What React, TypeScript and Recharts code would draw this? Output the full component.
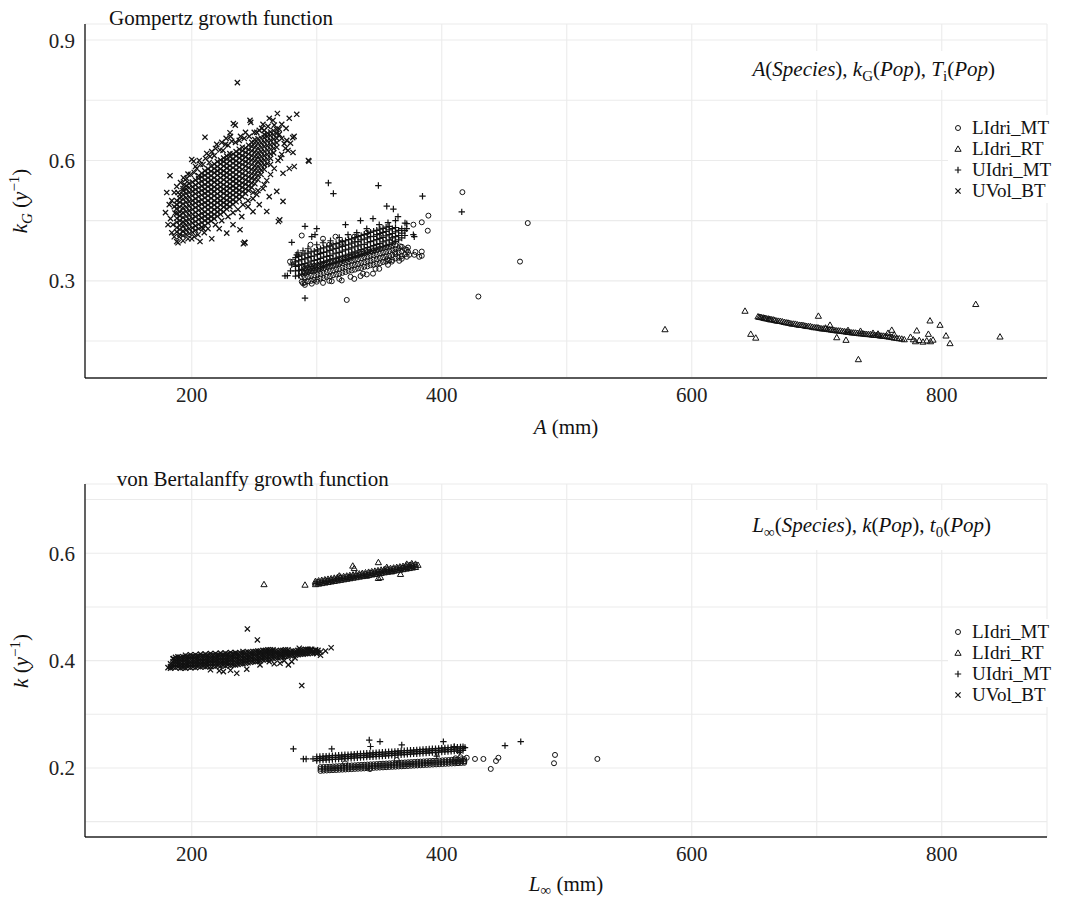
import React from 'react';
import { ScatterChart, Scatter, XAxis, YAxis, CartesianGrid, Legend } from 'recharts';

const FONT = "'Liberation Serif', 'Times New Roman', 'DejaVu Serif', serif";
const INK = '#121212';

const seriesNames = ['LIdri_MT', 'LIdri_RT', 'UIdri_MT', 'UVol_BT'];
const xTicks = [200, 300, 400, 500, 600, 700, 800];
const xTickLabels = [200, 400, 600, 800];
const gompYTicks = [0.15, 0.3, 0.45, 0.6, 0.75, 0.9];
const gompYTickLabels = [0.3, 0.6, 0.9];
const vbYTicks = [0.1, 0.2, 0.3, 0.4, 0.5, 0.6, 0.7];
const vbYTickLabels = [0.2, 0.4, 0.6];
const xDomain: [number, number] = [114.6, 884.2];
const gompYDomain: [number, number] = [0.058, 0.94];
const vbYDomain: [number, number] = [0.0714, 0.729];

type Col = [number, number[]];
type Pt = [number, number];

// ================= Gompertz panel (A, kG) =================
const gompLIdriMTBand: Col[] = [
  [288, [0.298, 0.31, 0.321, 0.334]], [290.5, [0.296, 0.309, 0.32, 0.331]],
  [293, [0.299, 0.31, 0.323, 0.333]], [295.5, [0.3, 0.313, 0.324, 0.336]],
  [298, [0.302, 0.314, 0.325, 0.338]], [300.5, [0.303, 0.316, 0.328, 0.339]],
  [303, [0.306, 0.317, 0.33, 0.342]], [305.5, [0.307, 0.32, 0.331, 0.343]],
  [308, [0.31, 0.322, 0.335, 0.346]], [310.5, [0.311, 0.324, 0.336, 0.348]],
  [313, [0.314, 0.326, 0.338, 0.35]], [315.5, [0.316, 0.329, 0.34, 0.352]],
  [318, [0.318, 0.33, 0.343, 0.353]], [320.5, [0.32, 0.333, 0.344, 0.356]],
  [323, [0.322, 0.334, 0.347, 0.357]], [325.5, [0.325, 0.336, 0.348, 0.36]],
  [328, [0.326, 0.339, 0.35, 0.361]], [330.5, [0.328, 0.34, 0.353, 0.364]],
  [333, [0.331, 0.342, 0.354, 0.365]], [335.5, [0.332, 0.345, 0.356, 0.368]],
  [338, [0.335, 0.346, 0.359, 0.369]], [340.5, [0.336, 0.349, 0.36, 0.372]],
  [343, [0.339, 0.35, 0.363, 0.373]], [345.5, [0.34, 0.353, 0.364, 0.376]],
  [348, [0.343, 0.354, 0.366, 0.377]], [350.5, [0.344, 0.357, 0.368, 0.38]],
  [353, [0.347, 0.358, 0.371, 0.381]], [355.5, [0.348, 0.361, 0.372, 0.384]],
  [358, [0.351, 0.362, 0.374, 0.385]], [360.5, [0.352, 0.365, 0.376, 0.388]],
  [363, [0.356, 0.367, 0.379, 0.389]], [365.5, [0.358, 0.371, 0.381]],
  [368, [0.362, 0.373, 0.385]], [370.5, [0.366, 0.379]], [373, [0.372, 0.383]],
];
const gompLIdriMTScatter: Pt[] = [
  [416.5, 0.521], [468.8, 0.444], [462.6, 0.348], [429.3, 0.261], [389.3, 0.4625],
  [388.8, 0.425], [384, 0.446], [384, 0.373], [384, 0.3625], [377.3, 0.44],
  [372, 0.3775], [366.6, 0.386], [362.6, 0.371], [360, 0.348], [356.5, 0.354],
  [324, 0.2525], [288, 0.413], [278.6, 0.348], [281, 0.348], [283.5, 0.344],
  [289, 0.294], [290.5, 0.29], [296, 0.293], [305, 0.295], [312, 0.299],
  [320, 0.301], [330, 0.305], [340, 0.316], [350, 0.33], [345, 0.318],
  [335, 0.312], [374, 0.365], [379, 0.372], [382, 0.36], [368, 0.355],
  [300, 0.37], [310, 0.39], [320, 0.395], [305, 0.405], [295, 0.39],
  [315, 0.41], [330, 0.41], [340, 0.42], [350, 0.41], [361, 0.405],
  [300, 0.298], [310, 0.3], [318, 0.305], [327, 0.31], [337, 0.318],
  [347, 0.33], [357, 0.34], [366, 0.35], [372, 0.36], [378, 0.365],
];

const gompLIdriRT: Pt[] = [
  [653, 0.211], [654, 0.21], [655, 0.2095], [656, 0.2088], [657.5, 0.208], [658, 0.2072],
  [659, 0.2065], [660, 0.206], [661.5, 0.2055], [662, 0.2045], [663, 0.2035], [664, 0.2038],
  [665.5, 0.203], [666.5, 0.2018], [668, 0.2005], [669.5, 0.2], [671, 0.1995], [672.5, 0.1985],
  [674, 0.197], [675.5, 0.1962], [677, 0.1955], [678.5, 0.1945], [680, 0.193], [681.5, 0.1928],
  [683, 0.1925], [684.5, 0.191], [686, 0.19], [687.5, 0.1898], [689, 0.1895], [690.5, 0.188],
  [692, 0.187], [693.5, 0.1868], [695, 0.1865], [696.5, 0.185], [698, 0.184], [699.5, 0.1838],
  [701, 0.1835], [702.5, 0.182], [704, 0.181], [705.5, 0.1808], [707, 0.1805], [708.5, 0.1795],
  [710, 0.179], [711.5, 0.1782], [713, 0.1775], [714.5, 0.1768], [716, 0.176], [717.5, 0.1758],
  [719, 0.1755], [720.5, 0.1745], [722, 0.174], [723.5, 0.1732], [725, 0.1725], [726.5, 0.172],
  [728, 0.171], [729.5, 0.1708], [731, 0.1705], [732.5, 0.1698], [734, 0.169], [735.5, 0.1688],
  [737, 0.1685], [738.5, 0.1675], [740, 0.167], [741.5, 0.1668], [743, 0.1665], [744.5, 0.1655],
  [746, 0.165], [747.5, 0.1648], [749, 0.1645], [750.5, 0.1635], [752, 0.163], [753.5, 0.1628],
  [755, 0.1625], [756.5, 0.1615], [758, 0.1605], [760, 0.1595], [762, 0.158], [764, 0.1575],
  [766, 0.1565], [768, 0.1555], [770, 0.154],
  [578.6, 0.179], [642.6, 0.225], [647.2, 0.1675], [651.2, 0.158], [701.3, 0.2125],
  [710.6, 0.19], [716, 0.159], [723.4, 0.1525], [733.3, 0.1043], [760, 0.1775],
  [757, 0.17], [749, 0.168], [780, 0.176], [777.3, 0.154], [779, 0.149],
  [782, 0.152], [785, 0.148], [788, 0.151], [791, 0.149], [793, 0.153],
  [790.6, 0.2008], [789.3, 0.1675], [798.6, 0.19], [803.4, 0.1633], [806.6, 0.1443],
  [827.2, 0.2418], [846.6, 0.1608], [775, 0.16], [762, 0.166], [745, 0.17],
  [735, 0.175], [707, 0.183], [725, 0.177],
];

const gompUIdriMTBand: Col[] = [
  [283, [0.312, 0.325, 0.336, 0.347, 0.358]], [285.5, [0.314, 0.326, 0.339, 0.35, 0.361]],
  [288, [0.317, 0.328, 0.341, 0.353, 0.364]], [290.5, [0.319, 0.332, 0.343, 0.355, 0.367]],
  [293, [0.322, 0.334, 0.345, 0.358, 0.369]], [295.5, [0.325, 0.336, 0.349, 0.361, 0.372]],
  [298, [0.327, 0.339, 0.351, 0.362, 0.374]], [300.5, [0.33, 0.342, 0.353, 0.366, 0.377]],
  [303, [0.332, 0.344, 0.356, 0.368, 0.38]], [305.5, [0.335, 0.346, 0.359, 0.371, 0.382]],
  [308, [0.337, 0.349, 0.361, 0.372, 0.385]], [310.5, [0.34, 0.352, 0.363, 0.376, 0.387]],
  [313, [0.343, 0.355, 0.367, 0.379, 0.39]], [315.5, [0.345, 0.356, 0.369, 0.381, 0.393]],
  [318, [0.348, 0.36, 0.371, 0.384, 0.395]], [320.5, [0.35, 0.362, 0.374, 0.386, 0.398]],
  [323, [0.353, 0.364, 0.377, 0.389, 0.4]], [325.5, [0.355, 0.367, 0.379, 0.39, 0.403]],
  [328, [0.358, 0.37, 0.382, 0.394, 0.405]], [330.5, [0.361, 0.372, 0.385, 0.397, 0.408]],
  [333, [0.363, 0.375, 0.387, 0.398, 0.41]], [335.5, [0.366, 0.378, 0.39, 0.402, 0.413]],
  [338, [0.368, 0.38, 0.391, 0.404, 0.416]], [340.5, [0.371, 0.383, 0.395, 0.407, 0.418]],
  [343, [0.374, 0.385, 0.398, 0.41, 0.421]], [345.5, [0.376, 0.388, 0.4, 0.411, 0.424]],
  [348, [0.379, 0.391, 0.403, 0.415, 0.426]], [350.5, [0.382, 0.393, 0.406, 0.418, 0.429]],
  [353, [0.385, 0.397, 0.408, 0.421, 0.431]], [355.5, [0.388, 0.4, 0.412, 0.423, 0.434]],
  [358, [0.391, 0.402, 0.415, 0.427, 0.436]], [360.5, [0.395, 0.407, 0.418, 0.43]],
  [363, [0.398, 0.41, 0.422, 0.433]], [365.5, [0.402, 0.413, 0.426]],
  [368, [0.407, 0.419, 0.43]], [370.5, [0.413, 0.425]],
];
const gompUIdriMTScatter: Pt[] = [
  [309.3, 0.544], [313.3, 0.5175], [349.3, 0.5375], [384.6, 0.511], [416, 0.472],
  [290.6, 0.257], [274.6, 0.3125], [276.5, 0.313], [280, 0.396], [290.6, 0.436],
  [370.6, 0.444], [377.3, 0.415], [356, 0.486], [361.3, 0.479], [298.6, 0.415],
  [372, 0.4425], [300, 0.43], [323, 0.44], [335, 0.45], [345, 0.455],
  [365, 0.46], [372, 0.43], [378, 0.41], [285, 0.37], [296, 0.41],
  [280, 0.34], [279, 0.325], [284, 0.365], [289, 0.375], [293, 0.38],
  [300, 0.39], [305, 0.395], [311, 0.4], [318, 0.408], [325, 0.415],
  [332, 0.42], [340, 0.43], [350, 0.44], [357, 0.445], [363, 0.45],
];

const gompUVolBTCore: Col[] = [
  [188, [0.422, 0.433, 0.446, 0.456, 0.468, 0.48, 0.49, 0.5]],
  [190.5, [0.416, 0.428, 0.438, 0.45, 0.462, 0.472, 0.484, 0.496, 0.506, 0.515]],
  [193, [0.413, 0.424, 0.437, 0.447, 0.458, 0.47, 0.482, 0.492, 0.504, 0.515, 0.525]],
  [195.5, [0.416, 0.427, 0.439, 0.45, 0.461, 0.473, 0.484, 0.496, 0.507, 0.518, 0.529, 0.537]],
  [198, [0.418, 0.43, 0.441, 0.453, 0.464, 0.475, 0.487, 0.498, 0.509, 0.521, 0.532, 0.543]],
  [200.5, [0.421, 0.432, 0.444, 0.455, 0.466, 0.478, 0.489, 0.5, 0.512, 0.523, 0.534, 0.546]],
  [203, [0.426, 0.437, 0.448, 0.46, 0.471, 0.483, 0.494, 0.505, 0.517, 0.528, 0.539, 0.551]],
  [205.5, [0.43, 0.441, 0.453, 0.464, 0.476, 0.487, 0.498, 0.51, 0.521, 0.532, 0.544, 0.555, 0.562]],
  [208, [0.434, 0.445, 0.457, 0.468, 0.479, 0.491, 0.502, 0.514, 0.525, 0.536, 0.548, 0.559, 0.568]],
  [210.5, [0.438, 0.45, 0.461, 0.472, 0.484, 0.495, 0.507, 0.518, 0.529, 0.54, 0.552, 0.563, 0.574]],
  [213, [0.444, 0.455, 0.466, 0.478, 0.489, 0.5, 0.512, 0.523, 0.535, 0.546, 0.557, 0.568, 0.579]],
  [215.5, [0.449, 0.46, 0.471, 0.483, 0.494, 0.506, 0.517, 0.528, 0.539, 0.551, 0.562, 0.573, 0.585]],
  [218, [0.455, 0.466, 0.478, 0.489, 0.5, 0.512, 0.523, 0.534, 0.546, 0.557, 0.569, 0.58, 0.591]],
  [220.5, [0.461, 0.472, 0.483, 0.495, 0.506, 0.517, 0.529, 0.54, 0.551, 0.563, 0.574, 0.585, 0.597]],
  [223, [0.466, 0.477, 0.489, 0.5, 0.511, 0.523, 0.534, 0.545, 0.557, 0.568, 0.579, 0.591, 0.601]],
  [225.5, [0.472, 0.484, 0.495, 0.506, 0.518, 0.529, 0.54, 0.552, 0.563, 0.574, 0.586, 0.597, 0.606]],
  [228, [0.479, 0.49, 0.501, 0.513, 0.524, 0.535, 0.547, 0.558, 0.569, 0.581, 0.592, 0.603, 0.611]],
  [230.5, [0.485, 0.497, 0.508, 0.519, 0.531, 0.542, 0.553, 0.565, 0.576, 0.587, 0.599, 0.61, 0.617]],
  [233, [0.491, 0.502, 0.514, 0.525, 0.536, 0.548, 0.559, 0.57, 0.582, 0.593, 0.604, 0.616]],
  [235.5, [0.497, 0.509, 0.52, 0.531, 0.543, 0.554, 0.565, 0.577, 0.588, 0.599, 0.611, 0.622]],
  [238, [0.504, 0.515, 0.526, 0.538, 0.549, 0.56, 0.572, 0.583, 0.594, 0.606, 0.617, 0.628]],
  [240.5, [0.51, 0.522, 0.533, 0.544, 0.556, 0.567, 0.578, 0.59, 0.601, 0.612, 0.624, 0.633]],
  [243, [0.518, 0.529, 0.541, 0.552, 0.563, 0.575, 0.586, 0.597, 0.609, 0.62, 0.631]],
  [245.5, [0.525, 0.536, 0.548, 0.559, 0.57, 0.582, 0.593, 0.604, 0.616, 0.627, 0.638]],
  [248, [0.533, 0.544, 0.556, 0.567, 0.578, 0.59, 0.601, 0.612, 0.624, 0.635, 0.645]],
  [250.5, [0.542, 0.553, 0.565, 0.576, 0.587, 0.599, 0.61, 0.621, 0.633, 0.644, 0.652]],
  [253, [0.552, 0.563, 0.575, 0.586, 0.597, 0.609, 0.62, 0.631, 0.643, 0.654]],
  [255.5, [0.565, 0.576, 0.588, 0.599, 0.61, 0.622, 0.633, 0.644, 0.656]],
  [258, [0.578, 0.589, 0.601, 0.612, 0.623, 0.635, 0.646, 0.657, 0.665]],
  [260.5, [0.592, 0.603, 0.615, 0.626, 0.637, 0.649, 0.66, 0.668]],
  [263, [0.605, 0.616, 0.628, 0.639, 0.65, 0.662, 0.671]],
  [265.5, [0.619, 0.63, 0.641, 0.653, 0.664, 0.674]],
  [268, [0.633, 0.644, 0.655, 0.667, 0.677]],
];
const gompUVolBTScatter: Pt[] = [
  [236.5, 0.794], [268.5, 0.717], [284, 0.715], [233.3, 0.692], [234.8, 0.688],
  [246.6, 0.7], [247.2, 0.695], [210.6, 0.658], [230.6, 0.669], [232, 0.648],
  [227.5, 0.655], [182.6, 0.562], [193.3, 0.557], [194.8, 0.552], [200, 0.6025],
  [201.5, 0.598], [212, 0.6175], [222.6, 0.626], [214.6, 0.61], [269.3, 0.448],
  [270.4, 0.452], [260, 0.473], [241.3, 0.3925], [242.2, 0.396], [188, 0.398],
  [206.6, 0.398], [186.6, 0.469], [293.3, 0.6], [293.8, 0.598], [281, 0.62],
  [280.8, 0.657], [281.9, 0.66], [275.5, 0.68], [272, 0.69], [278, 0.705],
  [262, 0.705], [257, 0.69], [254, 0.675], [270, 0.678], [276, 0.65],
  [279, 0.643], [275, 0.63], [271, 0.606], [282, 0.585], [278, 0.58],
  [273, 0.568], [263, 0.59], [258, 0.54], [249, 0.52], [253, 0.525],
  [268, 0.523], [273, 0.498], [262, 0.51], [254, 0.49], [242.6, 0.395],
  [238.6, 0.4275], [228, 0.419], [249, 0.4725], [245, 0.485], [240, 0.46],
  [233, 0.44], [222, 0.43], [216, 0.405], [210, 0.42], [200, 0.405],
  [190, 0.41], [185, 0.44], [183, 0.455], [186, 0.485], [189, 0.52],
  [194, 0.54], [197, 0.566], [204, 0.58], [207, 0.59], [218, 0.612],
  [225, 0.625], [220, 0.64], [229, 0.638], [238, 0.65], [243, 0.67],
  [250, 0.67], [256, 0.68], [265, 0.7],
  [184, 0.5], [186, 0.52], [188, 0.535], [191, 0.545], [193, 0.53],
  [196, 0.555], [199, 0.565], [202, 0.57], [203, 0.585], [206, 0.6],
  [209, 0.59], [211, 0.605], [214, 0.595], [216, 0.622], [219, 0.63],
  [224, 0.645], [227, 0.64], [231, 0.66], [235, 0.645], [239, 0.66],
  [242, 0.655], [246, 0.66], [252, 0.67], [258, 0.675], [261, 0.685],
  [266, 0.688], [270, 0.665], [272, 0.655], [274, 0.642], [277, 0.625],
  [180, 0.52], [182, 0.49], [179, 0.47], [181, 0.44], [184, 0.42],
  [186, 0.41], [189, 0.395], [193, 0.4], [197, 0.405], [202, 0.41],
  [205, 0.415], [209, 0.43], [213, 0.43], [219, 0.44], [224, 0.45],
  [229, 0.46], [233, 0.47], [237, 0.478], [241, 0.49], [245, 0.5],
  [249, 0.505], [252, 0.515], [257, 0.53], [260, 0.55], [263, 0.565],
  [266, 0.58], [269, 0.6], [272, 0.615],
];

// ================= von Bertalanffy panel (Linf, k) =================
const vbLIdriMTBand: Col[] = [
  [303, [0.1945, 0.1982, 0.2016]], [305.5, [0.1951, 0.1984, 0.2019]], [308, [0.1953, 0.1988, 0.2022]],
  [310.5, [0.1957, 0.1991, 0.2024]], [313, [0.196, 0.1995, 0.2029]], [315.5, [0.1962, 0.1997, 0.2031]],
  [318, [0.1966, 0.2001, 0.2034]], [320.5, [0.1969, 0.2003, 0.2038]], [323, [0.1972, 0.2007, 0.2041]],
  [325.5, [0.1976, 0.201, 0.2043]], [328, [0.1978, 0.2013, 0.2047]], [330.5, [0.1982, 0.2017, 0.205]],
  [333, [0.1986, 0.202, 0.2054]], [335.5, [0.1988, 0.2023, 0.2057]], [338, [0.1992, 0.2027, 0.206]],
  [340.5, [0.1995, 0.2029, 0.2064]], [343, [0.1998, 0.2033, 0.2067]], [345.5, [0.2002, 0.2036, 0.2069]],
  [348, [0.2005, 0.2039, 0.2073]], [350.5, [0.2008, 0.2042, 0.2077]], [353, [0.2011, 0.2046, 0.208]],
  [355.5, [0.2014, 0.2049, 0.2083]], [358, [0.2018, 0.2052, 0.2086]], [360.5, [0.2021, 0.2055, 0.209]],
  [363, [0.2024, 0.2059, 0.2093]], [365.5, [0.2028, 0.2062, 0.2096]], [368, [0.2031, 0.2065, 0.2099]],
  [370.5, [0.2034, 0.2068, 0.2103]], [373, [0.2037, 0.2072, 0.2106]], [375.5, [0.2041, 0.2075, 0.2109]],
  [378, [0.2044, 0.2078, 0.2112]], [380.5, [0.2047, 0.2082, 0.2116]], [383, [0.2051, 0.2085, 0.2119]],
  [385.5, [0.2054, 0.2088, 0.2122]], [388, [0.2057, 0.2091, 0.2126]], [390.5, [0.206, 0.2095, 0.2129]],
  [393, [0.2064, 0.2098, 0.2132]], [395.5, [0.2067, 0.2101, 0.2135]], [398, [0.207, 0.2104, 0.2139]],
  [400.5, [0.2073, 0.2108, 0.2142]], [403, [0.2077, 0.2111, 0.2145]], [405.5, [0.208, 0.2114, 0.2148]],
  [408, [0.2083, 0.2117, 0.2152]], [410.5, [0.2086, 0.2121, 0.2155]], [413, [0.209, 0.2124, 0.2158]],
  [415.5, [0.2093, 0.2127, 0.2161]], [418, [0.2096, 0.213, 0.2165]],
];
const vbLIdriMTScatter: Pt[] = [
  [426.6, 0.2168], [433.3, 0.2168], [439.2, 0.1982], [443.4, 0.213], [445.3, 0.219],
  [490.6, 0.2243], [489.8, 0.2088], [524.5, 0.2168], [342.6, 0.198], [364, 0.215],
  [322.6, 0.2088], [410, 0.212], [413, 0.209], [415, 0.22], [420, 0.219], [418, 0.212], [411, 0.218],
];

const vbLIdriRTBand: Col[] = [
  [299, [0.542, 0.545, 0.548]], [301.5, [0.543, 0.546, 0.549]], [304, [0.544, 0.547, 0.55]],
  [306.5, [0.545, 0.548, 0.551]], [309, [0.546, 0.549, 0.552]], [311.5, [0.547, 0.55, 0.553]],
  [314, [0.548, 0.551, 0.554]], [316.5, [0.549, 0.552, 0.555]], [319, [0.55, 0.553, 0.556]],
  [321.5, [0.551, 0.554, 0.557]], [324, [0.552, 0.555, 0.558]], [326.5, [0.553, 0.556, 0.559]],
  [329, [0.554, 0.557, 0.56]], [331.5, [0.555, 0.558, 0.561]], [334, [0.556, 0.559, 0.562]],
  [336.5, [0.557, 0.56, 0.563]], [339, [0.558, 0.561, 0.564]], [341.5, [0.559, 0.562, 0.565]],
  [344, [0.56, 0.563, 0.566]], [346.5, [0.561, 0.564, 0.567]], [349, [0.562, 0.565, 0.568]],
  [351.5, [0.563, 0.566, 0.569]], [354, [0.564, 0.567, 0.57]], [356.5, [0.565, 0.568, 0.571]],
  [359, [0.566, 0.569, 0.572]], [361.5, [0.567, 0.57, 0.573]], [364, [0.568, 0.571, 0.574]],
  [366.5, [0.569, 0.572, 0.575]], [369, [0.57, 0.573, 0.576]], [371.5, [0.571, 0.574, 0.577]],
  [374, [0.572, 0.575, 0.578]], [376.5, [0.573, 0.576, 0.579]], [379, [0.574, 0.577, 0.58]],
];
const vbLIdriRTScatter: Pt[] = [
  [257.8, 0.542], [290.6, 0.541], [328.8, 0.5765], [330, 0.572], [349.3, 0.583],
  [349.3, 0.5535], [351, 0.555], [367, 0.561], [326.6, 0.5547], [340, 0.558],
  [360, 0.566], [372, 0.58], [376, 0.581], [356, 0.574], [318, 0.558], [381, 0.578],
];

const vbUIdriMTBand: Col[] = [
  [300, [0.2138, 0.2174, 0.2209]], [302.5, [0.2142, 0.2178, 0.2213]], [305, [0.2146, 0.2182, 0.2217]],
  [307.5, [0.215, 0.2186, 0.2221]], [310, [0.2154, 0.219, 0.2225]], [312.5, [0.2158, 0.2194, 0.2229]],
  [315, [0.2162, 0.2198, 0.2233]], [317.5, [0.2166, 0.2202, 0.2237]], [320, [0.217, 0.2206, 0.2241]],
  [322.5, [0.2174, 0.221, 0.2245]], [325, [0.2178, 0.2214, 0.2249]], [327.5, [0.2182, 0.2218, 0.2253]],
  [330, [0.2186, 0.2222, 0.2257]], [332.5, [0.219, 0.2226, 0.2261]], [335, [0.2194, 0.223, 0.2265]],
  [337.5, [0.2198, 0.2234, 0.2269]], [340, [0.2202, 0.2238, 0.2273]], [342.5, [0.2206, 0.2242, 0.2277]],
  [345, [0.221, 0.2246, 0.2281]], [347.5, [0.2214, 0.225, 0.2285]], [350, [0.2218, 0.2254, 0.2289]],
  [352.5, [0.2222, 0.2258, 0.2293]], [355, [0.2226, 0.2262, 0.2297]], [357.5, [0.223, 0.2266, 0.2301]],
  [360, [0.2234, 0.227, 0.2305]], [362.5, [0.2238, 0.2274, 0.2309]], [365, [0.2242, 0.2278, 0.2313]],
  [367.5, [0.2246, 0.2282, 0.2317]], [370, [0.225, 0.2286, 0.2321]], [372.5, [0.2254, 0.229, 0.2325]],
  [375, [0.2258, 0.2294, 0.2329]], [377.5, [0.2262, 0.2298, 0.2333]], [380, [0.2266, 0.2302, 0.2337]],
  [382.5, [0.227, 0.2306, 0.2341]], [385, [0.2274, 0.231, 0.2345]], [387.5, [0.2278, 0.2314, 0.2349]],
  [390, [0.2282, 0.2318, 0.2353]], [392.5, [0.2286, 0.2322, 0.2357]], [395, [0.229, 0.2326, 0.2361]],
  [397.5, [0.2294, 0.233, 0.2365]], [400, [0.2298, 0.2334, 0.2369]], [402.5, [0.2302, 0.2338, 0.2373]],
  [405, [0.2306, 0.2342, 0.2377]], [407.5, [0.231, 0.2346, 0.2381]], [410, [0.2314, 0.235, 0.2385]],
  [412.5, [0.2318, 0.2354, 0.2389]], [415, [0.2322, 0.2358, 0.2393]], [417, [0.2325, 0.2361, 0.2396]],
];
const vbUIdriMTScatter: Pt[] = [
  [281.3, 0.2355], [289.3, 0.2168], [291.5, 0.2168], [297, 0.217], [342, 0.252],
  [350.6, 0.249], [401.3, 0.249], [450.6, 0.2416], [463.2, 0.249], [312, 0.2355],
  [368, 0.2429], [418.6, 0.238], [410, 0.24], [414, 0.229], [343, 0.24], [396, 0.222],
];

const vbUVolBTBand: Col[] = [
  [183, [0.389, 0.394]], [185, [0.388, 0.393, 0.398, 0.403]],
  [187, [0.387, 0.392, 0.397, 0.402, 0.406]], [189, [0.388, 0.393, 0.398, 0.403, 0.407]],
  [191, [0.386, 0.391, 0.396, 0.401, 0.406]], [193, [0.387, 0.392, 0.397, 0.402, 0.407]],
  [195, [0.386, 0.391, 0.396, 0.401, 0.406, 0.41]], [197, [0.388, 0.393, 0.398, 0.403, 0.408]],
  [199, [0.387, 0.392, 0.397, 0.402, 0.407, 0.411]], [201, [0.388, 0.393, 0.398, 0.403, 0.408]],
  [203, [0.387, 0.392, 0.397, 0.402, 0.407, 0.411]], [205, [0.389, 0.394, 0.399, 0.404, 0.409]],
  [207, [0.388, 0.393, 0.398, 0.403, 0.408, 0.412]], [209, [0.389, 0.394, 0.399, 0.404, 0.409]],
  [211, [0.388, 0.393, 0.398, 0.403, 0.408, 0.412]], [213, [0.39, 0.395, 0.4, 0.405, 0.41]],
  [215, [0.389, 0.394, 0.399, 0.404, 0.409, 0.413]], [217, [0.39, 0.395, 0.4, 0.405, 0.41]],
  [219, [0.389, 0.394, 0.399, 0.404, 0.409, 0.413]], [221, [0.391, 0.396, 0.401, 0.406, 0.411]],
  [223, [0.39, 0.395, 0.4, 0.405, 0.41, 0.414]], [225, [0.391, 0.396, 0.401, 0.406, 0.411]],
  [227, [0.39, 0.395, 0.4, 0.405, 0.41, 0.414]], [229, [0.392, 0.397, 0.402, 0.407, 0.412]],
  [231, [0.391, 0.396, 0.401, 0.406, 0.411, 0.415]], [233, [0.392, 0.397, 0.402, 0.407, 0.412]],
  [235, [0.392, 0.397, 0.402, 0.407, 0.412, 0.415]], [237, [0.393, 0.398, 0.403, 0.408, 0.413]],
  [239, [0.394, 0.399, 0.404, 0.409, 0.414]], [241, [0.394, 0.399, 0.404, 0.409, 0.414, 0.417]],
  [243, [0.395, 0.4, 0.405, 0.41, 0.415]], [245, [0.396, 0.401, 0.406, 0.411, 0.416]],
  [247, [0.397, 0.402, 0.407, 0.412, 0.416]], [249, [0.398, 0.403, 0.408, 0.413, 0.417]],
  [251, [0.398, 0.403, 0.408, 0.413, 0.417]], [253, [0.399, 0.404, 0.409, 0.414, 0.418]],
  [255, [0.4, 0.405, 0.41, 0.415, 0.418]], [257, [0.401, 0.406, 0.411, 0.415, 0.419]],
  [259, [0.402, 0.407, 0.412, 0.416, 0.419]], [261, [0.402, 0.407, 0.412, 0.416, 0.42]],
  [263, [0.403, 0.408, 0.413, 0.417, 0.42]], [265, [0.404, 0.409, 0.413, 0.417, 0.42]],
  [267, [0.405, 0.41, 0.414, 0.418]], [269, [0.405, 0.41, 0.414, 0.418]],
  [271, [0.406, 0.411, 0.415, 0.419]], [273, [0.407, 0.411, 0.415, 0.419]],
  [275, [0.408, 0.412, 0.416, 0.42]], [277, [0.408, 0.412, 0.416, 0.42]],
  [279, [0.409, 0.413, 0.417]], [281, [0.41, 0.414, 0.418]], [283, [0.41, 0.414, 0.418]],
  [285, [0.411, 0.415, 0.419]], [287, [0.412, 0.416, 0.42]], [289, [0.412, 0.416, 0.42]],
  [291, [0.413, 0.417, 0.421]], [293, [0.413, 0.417, 0.421]], [295, [0.414, 0.418, 0.421]],
  [297, [0.414, 0.418]], [299, [0.415, 0.419]], [301, [0.415, 0.419]], [303, [0.416]],
];
const vbUVolBTScatter: Pt[] = [
  [244.5, 0.459], [252.5, 0.4385], [288, 0.3535], [311.5, 0.424], [236, 0.3765],
  [225.3, 0.3795], [254.6, 0.392], [277.3, 0.392], [270.6, 0.395], [282.6, 0.405],
  [185.3, 0.404], [181, 0.387], [183, 0.386], [307, 0.418], [303, 0.41],
  [300, 0.413], [299, 0.42], [296, 0.421], [292, 0.419], [289, 0.414],
  [286, 0.423], [215, 0.383], [222, 0.381], [244, 0.384], [231, 0.382],
  [262, 0.398], [266, 0.394], [274, 0.4], [280, 0.398],
];

const fromCols = (cols: Col[]) => cols.flatMap(([x, ys]) => ys.map((y) => ({ x, y })));
const fromPts = (arr: Pt[]) => arr.map(([x, y]) => ({ x, y }));

const gompSeries = [
  [...fromCols(gompLIdriMTBand), ...fromPts(gompLIdriMTScatter)],
  fromPts(gompLIdriRT),
  [...fromCols(gompUIdriMTBand), ...fromPts(gompUIdriMTScatter)],
  [...fromCols(gompUVolBTCore), ...fromPts(gompUVolBTScatter)],
];
const vbSeries = [
  [...fromCols(vbLIdriMTBand), ...fromPts(vbLIdriMTScatter)],
  [...fromCols(vbLIdriRTBand), ...fromPts(vbLIdriRTScatter)],
  [...fromCols(vbUIdriMTBand), ...fromPts(vbUIdriMTScatter)],
  [...fromCols(vbUVolBTBand), ...fromPts(vbUVolBTScatter)],
];

// ---------- marker shapes ----------
const drawMarker = (kind: number, cx: number, cy: number) => {
  if (kind === 0) return <circle cx={cx} cy={cy} r={2.5} fill="none" stroke={INK} strokeWidth={1} />;
  if (kind === 1)
    return <path d={`M${cx},${cy - 3.1} L${cx + 3.1},${cy + 2.3} L${cx - 3.1},${cy + 2.3} Z`} fill="none" stroke={INK} strokeWidth={1} />;
  if (kind === 2)
    return <path d={`M${cx - 3.2},${cy} H${cx + 3.2} M${cx},${cy - 3.2} V${cy + 3.2}`} fill="none" stroke={INK} strokeWidth={1.2} />;
  return <path d={`M${cx - 2.6},${cy - 2.6} L${cx + 2.6},${cy + 2.6} M${cx - 2.6},${cy + 2.6} L${cx + 2.6},${cy - 2.6}`} fill="none" stroke={INK} strokeWidth={1.25} />;
};
const shapeFor = (kind: number) => (p: any) => {
  if (p == null || p.cx == null || p.cy == null) return <g />;
  return drawMarker(kind, p.cx, p.cy);
};

const LegendBox = () => (
  <div style={{ background: '#fff', fontFamily: FONT, fontSize: 19, color: INK, paddingTop: 2, paddingBottom: 2 }}>
    {seriesNames.map((n, i) => (
      <div key={n} style={{ display: 'flex', alignItems: 'center', height: 21, lineHeight: '21px', whiteSpace: 'nowrap' }}>
        <svg width={20} height={21} style={{ display: 'block' }}>{drawMarker(i, 10, 11)}</svg>
        <span style={{ marginLeft: 4 }}>{n}</span>
      </div>
    ))}
  </div>
);

const tickStyle = { fontSize: 21, fill: '#222', fontFamily: FONT };

type PanelProps = {
  top: number;
  marginTop: number;
  xAxisHeight: number;
  yDomain: [number, number];
  yTicks: number[];
  yTickLabels: number[];
  series: { x: number; y: number }[][];
  legendTop: number;
};

const Panel = ({ top, marginTop, xAxisHeight, yDomain, yTicks, yTickLabels, series, legendTop }: PanelProps) => (
  <div style={{ position: 'absolute', left: 0, top }}>
    <ScatterChart width={1068} height={451} margin={{ top: marginTop, right: 21, bottom: 0, left: 0 }}>
      <CartesianGrid stroke="#ebebeb" strokeWidth={1.1} />
      <XAxis
        type="number"
        dataKey="x"
        domain={xDomain}
        allowDataOverflow
        ticks={xTicks}
        interval={0}
        tickFormatter={(v: number) => (xTickLabels.includes(v) ? String(v) : '')}
        tickLine={false}
        tickSize={0}
        tickMargin={9}
        height={xAxisHeight}
        axisLine={{ stroke: '#5a5a5a', strokeWidth: 1.8 }}
        tick={tickStyle}
      />
      <YAxis
        type="number"
        dataKey="y"
        domain={yDomain}
        allowDataOverflow
        ticks={yTicks}
        interval={0}
        tickFormatter={(v: number) => (yTickLabels.includes(v) ? v.toFixed(1) : '')}
        tickLine={false}
        tickSize={0}
        tickMargin={10}
        width={85}
        axisLine={{ stroke: '#000', strokeWidth: 1.2 }}
        tick={tickStyle}
      />
      {series.map((s, i) => (
        <Scatter key={seriesNames[i]} name={seriesNames[i]} data={s} shape={shapeFor(i)} isAnimationActive={false} />
      ))}
      <Legend
        layout="vertical"
        align="center"
        verticalAlign="middle"
        width={118}
        wrapperStyle={{ left: 948, top: legendTop, width: 118 }}
        content={() => <LegendBox />}
      />
    </ScatterChart>
  </div>
);

const sub = 15;

export default function App() {
  return (
    <div style={{ position: 'absolute', left: 0, top: 0, width: 1068, height: 902, background: '#fff', fontFamily: FONT }}>
      <Panel
        top={0}
        marginTop={24}
        xAxisHeight={73}
        yDomain={gompYDomain}
        yTicks={gompYTicks}
        yTickLabels={gompYTickLabels}
        series={gompSeries}
        legendTop={115}
      />
      <Panel
        top={451}
        marginTop={33}
        xAxisHeight={65}
        yDomain={vbYDomain}
        yTicks={vbYTicks}
        yTickLabels={vbYTickLabels}
        series={vbSeries}
        legendTop={168}
      />
      <svg width={1068} height={902} style={{ position: 'absolute', left: 0, top: 0, pointerEvents: 'none' }} fontFamily={FONT} fontSize={21} fill="#111">
        <text x={109} y={25}>Gompertz growth function</text>
        <text x={116.7} y={485.5}>von Bertalanffy growth function</text>

        <rect x={738} y={51} width={264} height={39} fill="#fff" />
        <text x={995} y={76} textAnchor="end">
          <tspan fontStyle="italic">A</tspan>
          <tspan>(</tspan>
          <tspan fontStyle="italic">Species</tspan>
          <tspan>{'), '}</tspan>
          <tspan fontStyle="italic">k</tspan>
          <tspan fontSize={sub} dy={5}>G</tspan>
          <tspan dy={-5}>(</tspan>
          <tspan fontStyle="italic">Pop</tspan>
          <tspan>{'), '}</tspan>
          <tspan fontStyle="italic">T</tspan>
          <tspan fontSize={sub} dy={5}>i</tspan>
          <tspan dy={-5}>(</tspan>
          <tspan fontStyle="italic">Pop</tspan>
          <tspan>)</tspan>
        </text>

        <rect x={738} y={510} width={262} height={40} fill="#fff" />
        <text x={991} y={532} textAnchor="end">
          <tspan fontStyle="italic">L</tspan>
          <tspan fontSize={sub} dy={5}>∞</tspan>
          <tspan dy={-5}>(</tspan>
          <tspan fontStyle="italic">Species</tspan>
          <tspan>{'), '}</tspan>
          <tspan fontStyle="italic">k</tspan>
          <tspan>(</tspan>
          <tspan fontStyle="italic">Pop</tspan>
          <tspan>{'), '}</tspan>
          <tspan fontStyle="italic">t</tspan>
          <tspan fontSize={sub} dy={5}>0</tspan>
          <tspan dy={-5}>(</tspan>
          <tspan fontStyle="italic">Pop</tspan>
          <tspan>)</tspan>
        </text>

        <text x={566} y={434} textAnchor="middle">
          <tspan fontStyle="italic">A</tspan>
          <tspan>{' (mm)'}</tspan>
        </text>
        <text x={566} y={891} textAnchor="middle">
          <tspan fontStyle="italic">L</tspan>
          <tspan fontSize={sub} dy={4}>∞</tspan>
          <tspan dy={-4}>{' (mm)'}</tspan>
        </text>

        <text x={27} y={201} transform="rotate(-90 27 201)" textAnchor="middle">
          <tspan fontStyle="italic">k</tspan>
          <tspan fontStyle="italic" fontSize={sub} dy={5}>G</tspan>
          <tspan dy={-5}>{' ('}</tspan>
          <tspan fontStyle="italic">y</tspan>
          <tspan fontSize={sub} dy={-8}>−1</tspan>
          <tspan dy={8}>)</tspan>
        </text>
        <text x={28} y={661} transform="rotate(-90 28 661)" textAnchor="middle">
          <tspan fontStyle="italic">k</tspan>
          <tspan>{' ('}</tspan>
          <tspan fontStyle="italic">y</tspan>
          <tspan fontSize={sub} dy={-8}>−1</tspan>
          <tspan dy={8}>)</tspan>
        </text>
      </svg>
    </div>
  );
}
